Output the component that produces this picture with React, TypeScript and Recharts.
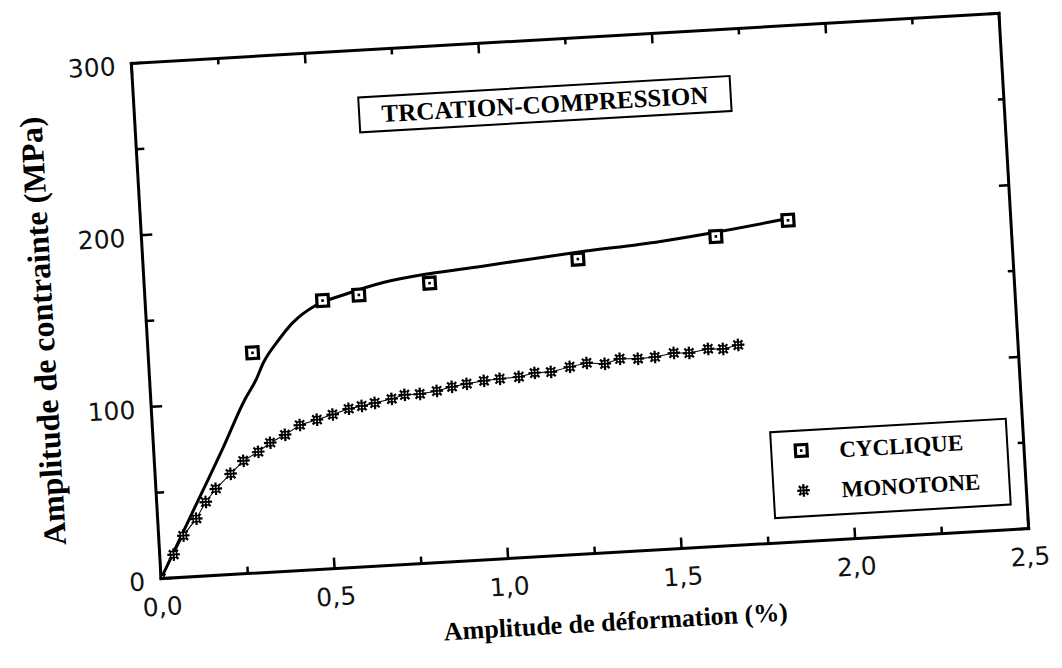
import React from 'react';
import { ComposedChart, Line, Scatter, XAxis, YAxis } from 'recharts';

// ---- data ----
const cycliqueX = [0.3, 0.51, 0.615, 0.82, 1.25, 1.65, 1.86];
const cycliqueY = [128, 156, 158, 162.5, 171.5, 180, 187];

const fitX = [0, 0.1, 0.2, 0.27, 0.305, 0.33, 0.375, 0.42, 0.49, 0.57, 0.69, 0.82, 0.97, 1.25, 1.49, 1.65, 1.86];
const fitY = [0, 37, 74, 101, 112, 122, 134, 144, 153.5, 158.5, 164.5, 168, 170.5, 175.5, 179, 182.5, 188];

const monotoneX = [0, 0.04, 0.071, 0.111, 0.141, 0.172, 0.217, 0.256, 0.3, 0.336, 0.38, 0.424, 0.474, 0.52, 0.567, 0.605, 0.643, 0.692, 0.73, 0.774, 0.823, 0.867, 0.91, 0.96, 1.006, 1.061, 1.107, 1.154, 1.209, 1.258, 1.31, 1.354, 1.406, 1.455, 1.51, 1.554, 1.609, 1.652, 1.696];
const monotoneY = [0, 13.5, 24.2, 33.6, 43, 50.3, 58.5, 65.6, 70.3, 75.2, 79.3, 84.5, 87, 89.5, 92.3, 93.5, 94.8, 96.6, 98.5, 98.5, 99.7, 101.6, 102.8, 104, 104.6, 105.1, 106.9, 106.9, 109.2, 110.9, 109.8, 112.2, 111.6, 112.1, 113.8, 113.3, 115, 114.5, 116.3];

const xTicks = [0, 0.25, 0.5, 0.75, 1, 1.25, 1.5, 1.75, 2, 2.25, 2.5];
const yTicks = [0, 50, 100, 150, 200, 250, 300];
const xLabelValues = [0, 0.5, 1, 1.5, 2, 2.5];
const xLabelTexts = ['0,0', '0,5', '1,0', '1,5', '2,0', '2,5'];
const yLabelValues = [0, 100, 200, 300];
const yLabelTexts = ['0', '100', '200', '300'];

const title = 'TRCATION-COMPRESSION';
const xTitle = 'Amplitude de déformation (%)';
const yTitle = 'Amplitude de contrainte (MPa)';
const legendNames = ['CYCLIQUE', 'MONOTONE'];

const cycliqueData = cycliqueX.map((x, i) => ({ x, y: cycliqueY[i] }));
const fitData = fitX.map((x, i) => ({ x, y: fitY[i] }));
const monotoneData = monotoneX.map((x, i) => ({ x, y: monotoneY[i] }));

const SERIF = '"Liberation Serif", "Times New Roman", serif';
const SANS = '"DejaVu Sans", sans-serif';
const INK = '#000';

const findIdx = (arr: number[], v: number) => arr.findIndex((t) => Math.abs(t - v) < 1e-9);

function BottomTick(props: any) {
  const { x, y, payload } = props;
  const idx = findIdx(xLabelValues, payload.value);
  const major = idx >= 0;
  return (
    <g>
      <line x1={x} x2={x} y1={y} y2={y - (major ? 11 : 7)} stroke={INK} strokeWidth={2.5} />
      {major && (
        <text x={x} y={y + 28} dy="0.35em" textAnchor="middle" fontFamily={SANS} fontSize={25} fill="#111">
          {xLabelTexts[idx]}
        </text>
      )}
    </g>
  );
}

function TopTick(props: any) {
  const { x, y, payload } = props;
  const major = findIdx(xLabelValues, payload.value) >= 0;
  return <line x1={x} x2={x} y1={y} y2={y + (major ? 10 : 6)} stroke={INK} strokeWidth={2.5} />;
}

function LeftTick(props: any) {
  const { x, y, payload } = props;
  const idx = findIdx(yLabelValues, payload.value);
  const major = idx >= 0;
  return (
    <g>
      <line x1={x} x2={x + (major ? 11 : 8)} y1={y} y2={y} stroke={INK} strokeWidth={2.5} />
      {major && (
        <text x={x - 16} y={y + 2} dy="0.35em" textAnchor="end" fontFamily={SANS} fontSize={25} fill="#111">
          {yLabelTexts[idx]}
        </text>
      )}
    </g>
  );
}

function RightTick(props: any) {
  const { x, y, payload } = props;
  const major = findIdx(yLabelValues, payload.value) >= 0;
  return <line x1={x} x2={x - (major ? 10 : 6)} y1={y} y2={y} stroke={INK} strokeWidth={2.5} />;
}

function SquareMark({ cx, cy }: { cx?: number; cy?: number }) {
  if (cx == null || cy == null) return null;
  return (
    <g>
      <rect x={cx - 5.8} y={cy - 5.8} width={11.6} height={11.6} fill="#fff" stroke={INK} strokeWidth={3.2} />
      <rect x={cx - 1.3} y={cy - 1.3} width={2.6} height={2.6} fill={INK} />
    </g>
  );
}

function AsteriskMark({ cx, cy }: { cx?: number; cy?: number }) {
  if (cx == null || cy == null) return null;
  const r = 6.3;
  const d = r * 0.72;
  return (
    <g>
      <line x1={cx - r} y1={cy} x2={cx + r} y2={cy} stroke={INK} strokeWidth={2.2} />
      <line x1={cx} y1={cy - r} x2={cx} y2={cy + r} stroke={INK} strokeWidth={2.2} />
      <line x1={cx - d} y1={cy - d} x2={cx + d} y2={cy + d} stroke={INK} strokeWidth={2.2} />
      <line x1={cx - d} y1={cy + d} x2={cx + d} y2={cy - d} stroke={INK} strokeWidth={2.2} />
      <circle cx={cx} cy={cy} r={4} fill={INK} />
      <circle cx={cx - 1.6} cy={cy - 1.6} r={0.8} fill="#fff" />
      <circle cx={cx + 1.6} cy={cy + 1.6} r={0.8} fill="#fff" />
      <circle cx={cx + 1.6} cy={cy - 1.6} r={0.8} fill="#fff" />
      <circle cx={cx - 1.6} cy={cy + 1.6} r={0.8} fill="#fff" />
    </g>
  );
}

const axisLine = { stroke: INK, strokeWidth: 3, strokeLinecap: 'square' as const };

export default function App() {
  return (
    <div
      style={{
        position: 'absolute',
        left: 0,
        top: 0,
        width: 1062,
        height: 668,
        transform: 'rotate(-3.3deg)',
        transformOrigin: '580px 296px',
      }}
    >
      <ComposedChart
        width={1062}
        height={668}
        margin={{ top: 28, left: 45.5, right: 37.5, bottom: 24 }}
      >
        <XAxis
          xAxisId={0}
          type="number"
          dataKey="x"
          domain={[0, 2.5]}
          ticks={xTicks}
          interval={0}
          allowDataOverflow
          height={90}
          tickSize={0}
          tickMargin={0}
          tickLine={false}
          axisLine={axisLine}
          tick={BottomTick}
        />
        <XAxis
          xAxisId="top"
          orientation="top"
          type="number"
          dataKey="x"
          domain={[0, 2.5]}
          ticks={xTicks}
          interval={0}
          allowDataOverflow
          height={10}
          tickSize={0}
          tickMargin={0}
          tickLine={false}
          axisLine={axisLine}
          tick={TopTick}
        />
        <YAxis
          yAxisId={0}
          type="number"
          dataKey="y"
          domain={[0, 300]}
          ticks={yTicks}
          interval={0}
          allowDataOverflow
          width={100}
          tickSize={0}
          tickMargin={0}
          tickLine={false}
          axisLine={axisLine}
          tick={LeftTick}
        />
        <YAxis
          yAxisId="right"
          orientation="right"
          type="number"
          domain={[0, 300]}
          ticks={yTicks}
          interval={0}
          allowDataOverflow
          width={10}
          tickSize={0}
          tickMargin={0}
          tickLine={false}
          axisLine={axisLine}
          tick={RightTick}
        />
        <Line
          data={fitData}
          dataKey="y"
          type="monotone"
          stroke={INK}
          strokeWidth={3}
          dot={false}
          activeDot={false}
          isAnimationActive={false}
        />
        <Line
          data={monotoneData}
          dataKey="y"
          type="linear"
          stroke={INK}
          strokeWidth={1}
          dot={(p: any) => <AsteriskMark key={`m-${p.index}`} cx={p.cx} cy={p.cy} />}
          activeDot={false}
          isAnimationActive={false}
        />
        <Scatter
          data={cycliqueData}
          dataKey="y"
          shape={(p: any) => <SquareMark cx={p.cx} cy={p.cy} />}
          isAnimationActive={false}
        />
      </ComposedChart>

      {/* title box */}
      <div
        style={{
          position: 'absolute',
          left: 369,
          top: 84,
          width: 374,
          height: 37,
          boxSizing: 'border-box',
          border: '2px solid #000',
          background: '#fff',
          display: 'flex',
          alignItems: 'center',
          justifyContent: 'center',
          fontFamily: SERIF,
          fontWeight: 'bold',
          fontSize: 25,
          color: INK,
          whiteSpace: 'nowrap',
        }}
      >
        {title}
      </div>

      {/* legend box */}
      <div
        style={{
          position: 'absolute',
          left: 761,
          top: 442,
          width: 238,
          height: 88,
          boxSizing: 'border-box',
          border: '2px solid #000',
          background: '#fff',
        }}
      >
        <svg width={40} height={88} style={{ position: 'absolute', left: 9, top: -2 }}>
          <SquareMark cx={20} cy={21} />
          <AsteriskMark cx={20} cy={61} />
        </svg>
        {legendNames.map((n, i) => (
          <div
            key={n}
            style={{
              position: 'absolute',
              left: 67,
              top: (i === 0 ? 21 : 61) - 15,
              height: 30,
              lineHeight: '30px',
              fontFamily: SERIF,
              fontWeight: 'bold',
              fontSize: 23,
              color: INK,
              whiteSpace: 'nowrap',
            }}
          >
            {n}
          </div>
        ))}
      </div>

      {/* axis titles */}
      <div
        style={{
          position: 'absolute',
          left: 42,
          top: 300,
          transform: 'translate(-50%, -50%) rotate(-90deg)',
          fontFamily: SERIF,
          fontWeight: 'bold',
          fontSize: 32,
          color: INK,
          whiteSpace: 'nowrap',
        }}
      >
        {yTitle}
      </div>
      <div
        style={{
          position: 'absolute',
          left: 597,
          top: 624,
          transform: 'translate(-50%, -50%)',
          fontFamily: SERIF,
          fontWeight: 'bold',
          fontSize: 26,
          color: INK,
          whiteSpace: 'nowrap',
        }}
      >
        {xTitle}
      </div>
    </div>
  );
}
